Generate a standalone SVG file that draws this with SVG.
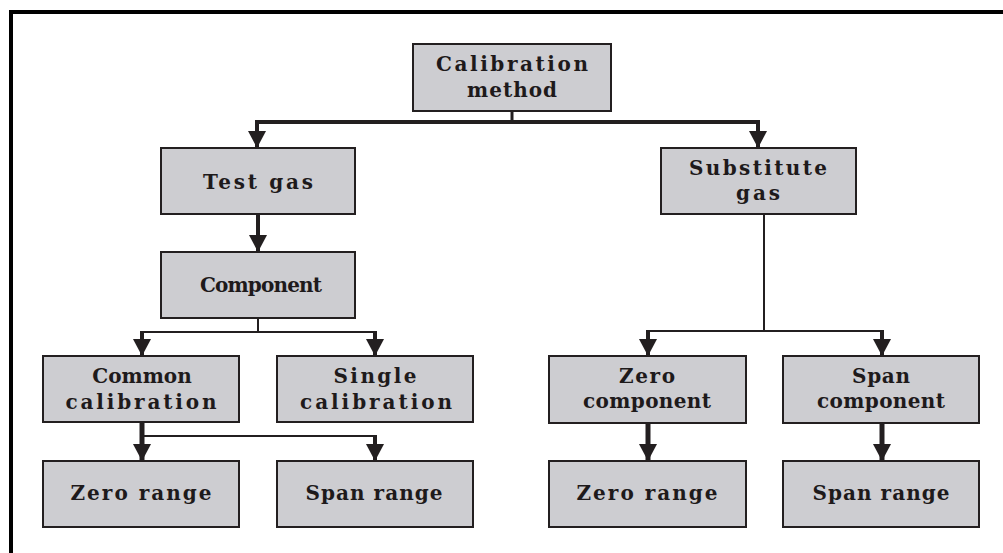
<svg xmlns="http://www.w3.org/2000/svg" width="1003" height="553" viewBox="0 0 1003 553">
<style>
.box{fill:#cdcdd1;stroke:#231f20;stroke-width:2}
.t{font-family:"DejaVu Serif","Liberation Serif",serif;font-weight:bold;font-size:20px;fill:#1e1a1b;text-anchor:middle}
.c{fill:none;stroke:#231f20;stroke-linecap:butt}
.thin{stroke-width:2}
.mid{stroke-width:3}
.thick{stroke-width:4}
.heavy{stroke-width:5}
</style>
<defs>
<marker id="ah" markerUnits="userSpaceOnUse" markerWidth="18" markerHeight="18" viewBox="0 0 18 18" refX="17" refY="9" orient="auto">
<path d="M0,0 L17,9 L0,18 Z" fill="#231f20"/>
</marker>
</defs>
<rect width="1003" height="553" fill="#ffffff"/>
<path d="M11,553 V12 H1003" fill="none" stroke="#000" stroke-width="4"/>
<g id="connectors">
<path class="c mid" d="M512,111 V122"/>
<path class="c thick" d="M257,122 H760"/>
<path class="c thick" d="M257,120 V148" marker-end="url(#ah)"/>
<path class="c thick" d="M758,120 V148" marker-end="url(#ah)"/>
<path class="c thick" d="M258,214 V252" marker-end="url(#ah)"/>
<path class="c thin" d="M258,318 V332"/>
<path class="c thin" d="M142,332 H375"/>
<path class="c thick" d="M142,331 V356" marker-end="url(#ah)"/>
<path class="c thick" d="M375,331 V356" marker-end="url(#ah)"/>
<path class="c heavy" d="M142,422 V461" marker-end="url(#ah)"/>
<path class="c thin" d="M142,436 H375"/>
<path class="c thick" d="M375,435 V461" marker-end="url(#ah)"/>
<path class="c thin" d="M764,214 V331"/>
<path class="c thin" d="M648,331 H882"/>
<path class="c thick" d="M648,330 V356" marker-end="url(#ah)"/>
<path class="c thick" d="M882,330 V356" marker-end="url(#ah)"/>
<path class="c heavy" d="M648,423 V461" marker-end="url(#ah)"/>
<path class="c heavy" d="M882,423 V461" marker-end="url(#ah)"/>
</g>
<g id="calibration-method">
<rect class="box" x="413" y="44" width="198" height="67"/>
<text class="t" x="512" y="71" textLength="152" lengthAdjust="spacing">Calibration</text>
<text class="t" x="512" y="97" textLength="90" lengthAdjust="spacing">method</text>
</g>
<g id="test-gas">
<rect class="box" x="161" y="148" width="194" height="66"/>
<text class="t" x="258" y="189" textLength="110" lengthAdjust="spacing">Test gas</text>
</g>
<g id="component">
<rect class="box" x="161" y="252" width="194" height="66"/>
<text class="t" x="261" y="292" textLength="122" lengthAdjust="spacing">Component</text>
</g>
<g id="substitute-gas">
<rect class="box" x="661" y="148" width="195" height="66"/>
<text class="t" x="758" y="175" textLength="138" lengthAdjust="spacing">Substitute</text>
<text class="t" x="758" y="200" textLength="44" lengthAdjust="spacing">gas</text>
</g>
<g id="common-calibration">
<rect class="box" x="43" y="356" width="196" height="66"/>
<text class="t" x="142" y="383">Common</text>
<text class="t" x="141" y="409" textLength="151" lengthAdjust="spacing">calibration</text>
</g>
<g id="single-calibration">
<rect class="box" x="277" y="356" width="196" height="66"/>
<text class="t" x="375" y="383" textLength="83" lengthAdjust="spacing">Single</text>
<text class="t" x="376" y="409" textLength="152" lengthAdjust="spacing">calibration</text>
</g>
<g id="zero-component">
<rect class="box" x="549" y="356" width="197" height="67"/>
<text class="t" x="647" y="383" textLength="56" lengthAdjust="spacing">Zero</text>
<text class="t" x="647" y="408" textLength="128" lengthAdjust="spacing">component</text>
</g>
<g id="span-component">
<rect class="box" x="783" y="356" width="196" height="67"/>
<text class="t" x="881" y="383" textLength="58" lengthAdjust="spacing">Span</text>
<text class="t" x="881" y="408" textLength="128" lengthAdjust="spacing">component</text>
</g>
<g id="zero-range-left">
<rect class="box" x="43" y="461" width="196" height="66"/>
<text class="t" x="141" y="500" textLength="141" lengthAdjust="spacing">Zero range</text>
</g>
<g id="span-range-left">
<rect class="box" x="277" y="461" width="196" height="66"/>
<text class="t" x="374" y="500" textLength="137" lengthAdjust="spacing">Span range</text>
</g>
<g id="zero-range-right">
<rect class="box" x="549" y="461" width="197" height="66"/>
<text class="t" x="647" y="500" textLength="141" lengthAdjust="spacing">Zero range</text>
</g>
<g id="span-range-right">
<rect class="box" x="783" y="461" width="196" height="66"/>
<text class="t" x="881" y="500" textLength="137" lengthAdjust="spacing">Span range</text>
</g>
</svg>
